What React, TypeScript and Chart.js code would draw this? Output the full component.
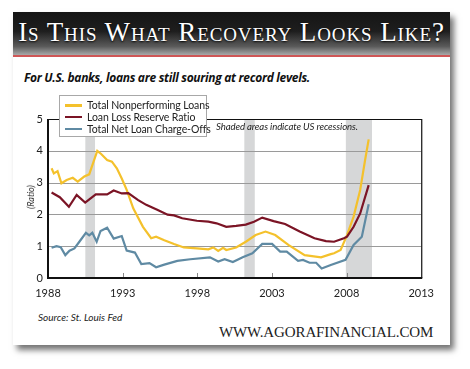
import React, { useEffect, useRef } from "react";
import { Chart, registerables } from "chart.js";

Chart.register(...registerables);

const nplYears = [1988.24, 1988.39, 1988.64, 1988.9, 1989.25, 1989.66, 1989.99, 1990.43, 1990.76, 1991.3, 1991.56, 1991.96, 1992.28, 1992.61, 1992.94, 1993.27, 1993.71, 1994.36, 1994.91, 1995.24, 1995.79, 1996.44, 1997.1, 1997.97, 1998.74, 1999.07, 1999.4, 1999.73, 1999.94, 2000.6, 2001.25, 2001.91, 2002.57, 2003.22, 2004.1, 2005.19, 2006.29, 2006.94, 2007.16, 2007.6, 2008.03, 2008.47, 2008.91, 2009.24, 2009.48];
const nplValues = [3.45, 3.29, 3.36, 2.98, 3.08, 3.15, 3.03, 3.19, 3.26, 4.0, 3.9, 3.71, 3.66, 3.45, 3.13, 2.77, 2.19, 1.61, 1.25, 1.3, 1.19, 1.07, 0.96, 0.93, 0.9, 0.96, 0.85, 0.95, 0.88, 0.96, 1.14, 1.35, 1.46, 1.35, 1.04, 0.72, 0.65, 0.75, 0.78, 0.88, 1.35, 1.93, 2.77, 3.71, 4.36];

const reserveYears = [1988.24, 1988.79, 1989.4, 1989.92, 1990.49, 1991.2, 1991.96, 1992.4, 1992.94, 1993.38, 1994.04, 1994.58, 1995.35, 1996.01, 1996.44, 1996.99, 1997.97, 1998.74, 1999.29, 1999.94, 2000.6, 2001.25, 2001.8, 2002.35, 2003.11, 2003.88, 2004.86, 2005.85, 2006.62, 2007.16, 2007.82, 2008.03, 2008.47, 2008.91, 2009.48];
const reserveValues = [2.69, 2.54, 2.24, 2.61, 2.37, 2.63, 2.63, 2.75, 2.66, 2.67, 2.45, 2.3, 2.14, 1.99, 1.97, 1.88, 1.8, 1.77, 1.72, 1.61, 1.64, 1.68, 1.77, 1.9, 1.79, 1.7, 1.46, 1.25, 1.16, 1.14, 1.25, 1.3, 1.61, 2.03, 2.92];

const chargeOffYears = [1988.24, 1988.57, 1988.85, 1989.16, 1989.44, 1989.77, 1990.1, 1990.54, 1990.76, 1990.97, 1991.26, 1991.52, 1991.96, 1992.4, 1992.94, 1993.27, 1993.82, 1994.25, 1994.8, 1995.24, 1995.79, 1996.66, 1997.53, 1998.85, 1999.4, 1999.83, 2000.38, 2001.04, 2001.69, 2002.35, 2003.01, 2003.55, 2003.99, 2004.75, 2005.08, 2005.52, 2005.96, 2006.33, 2006.94, 2007.93, 2008.47, 2009.02, 2009.48];
const chargeOffValues = [0.95, 1.0, 0.97, 0.72, 0.86, 0.93, 1.14, 1.42, 1.34, 1.42, 1.14, 1.48, 1.58, 1.24, 1.32, 0.86, 0.8, 0.44, 0.47, 0.34, 0.42, 0.54, 0.59, 0.65, 0.52, 0.59, 0.5, 0.65, 0.78, 1.07, 1.07, 0.83, 0.83, 0.54, 0.57, 0.48, 0.48, 0.3, 0.41, 0.57, 1.04, 1.3, 2.32];

const recessionStarts = [1990.5, 2001.15, 2007.95];
const recessionEnds = [1991.15, 2001.85, 2009.7];

const xTicks = [1988, 1993, 1998, 2003, 2008, 2013];
const yTicks = [0, 1, 2, 3, 4, 5];

const seriesNames = ["Total Nonperforming Loans", "Loan Loss Reserve Ratio", "Total Net Loan Charge-Offs"];
const seriesColors = ["#f4c12c", "#7b1425", "#5f8aa3"];

const LABEL_FONT = "Lato, 'Noto Sans', sans-serif";

function pts(xs: number[], ys: number[]) {
  return xs.map((x, i) => ({ x, y: ys[i] }));
}

const recessionPlugin = {
  id: "recessions",
  beforeDatasetsDraw(chart: any) {
    const { ctx, chartArea, scales } = chart;
    ctx.save();
    ctx.fillStyle = "#d6d7d8";
    for (let i = 0; i < recessionStarts.length; i++) {
      const x1 = scales.x.getPixelForValue(recessionStarts[i]);
      const x2 = scales.x.getPixelForValue(recessionEnds[i]);
      ctx.fillRect(x1, chartArea.top, x2 - x1, chartArea.bottom - chartArea.top);
    }
    ctx.strokeStyle = "#9a9a9a";
    ctx.lineWidth = 1;
    for (const v of yTicks) {
      if (v === 0 || v === 5) continue;
      const y = Math.round(scales.y.getPixelForValue(v)) + 0.5;
      ctx.beginPath();
      ctx.moveTo(chartArea.left, y);
      ctx.lineTo(chartArea.right, y);
      ctx.stroke();
    }
    ctx.restore();
  },
  afterDatasetsDraw(chart: any) {
    const { ctx, chartArea, scales } = chart;
    ctx.save();
    ctx.strokeStyle = "#111";
    ctx.lineWidth = 1.2;
    ctx.beginPath();
    ctx.moveTo(chartArea.left, chartArea.top + 0.5);
    ctx.lineTo(chartArea.right + 0.5, chartArea.top + 0.5);
    ctx.lineTo(chartArea.right + 0.5, chartArea.bottom);
    ctx.stroke();
    ctx.lineWidth = 2;
    ctx.beginPath();
    ctx.moveTo(chartArea.left, chartArea.top);
    ctx.lineTo(chartArea.left, chartArea.bottom);
    ctx.lineTo(chartArea.right + 1, chartArea.bottom);
    ctx.stroke();
    ctx.strokeStyle = "#888";
    ctx.lineWidth = 1;
    for (const t of xTicks) {
      if (t === 1988 || t === 2013) continue;
      const x = Math.round(scales.x.getPixelForValue(t)) + 0.5;
      ctx.beginPath();
      ctx.moveTo(x, chartArea.bottom - 1);
      ctx.lineTo(x, chartArea.bottom - 5);
      ctx.stroke();
    }
    ctx.restore();
  },
};

function LineChart() {
  const ref = useRef<HTMLCanvasElement>(null);
  useEffect(() => {
    if (!ref.current) return;
    const chart = new Chart(ref.current, {
      type: "line",
      data: {
        datasets: [
          { label: seriesNames[2], data: pts(chargeOffYears, chargeOffValues), borderColor: seriesColors[2] },
          { label: seriesNames[1], data: pts(reserveYears, reserveValues), borderColor: seriesColors[1] },
          { label: seriesNames[0], data: pts(nplYears, nplValues), borderColor: seriesColors[0] },
        ].map((d) => ({ ...d, borderWidth: 2.2, pointRadius: 0, tension: 0, fill: false })),
      },
      options: {
        animation: false,
        responsive: false,
        maintainAspectRatio: false,
        layout: { padding: { top: 29, right: 14, left: 0, bottom: 0 } },
        plugins: { legend: { display: false }, tooltip: { enabled: false } },
        scales: {
          x: {
            type: "linear",
            min: 1988,
            max: 2013,
            afterBuildTicks: (axis: any) => {
              axis.ticks = xTicks.map((v) => ({ value: v }));
            },
            afterFit: (axis: any) => {
              axis.height = 32;
            },
            grid: { display: false, drawTicks: false },
            border: { display: false },
            ticks: {
              color: "#222",
              font: { family: LABEL_FONT, size: 11 },
              padding: 9,
              maxRotation: 0,
              autoSkip: false,
              callback: (v: any) => String(v),
            },
          },
          y: {
            min: 0,
            max: 5,
            afterBuildTicks: (axis: any) => {
              axis.ticks = yTicks.map((v) => ({ value: v }));
            },
            afterFit: (axis: any) => {
              axis.width = 35;
            },
            grid: { display: false, drawTicks: false },
            border: { display: false },
            ticks: {
              color: "#222",
              font: { family: LABEL_FONT, size: 11 },
              padding: 5,
              callback: (v: any) => String(v),
            },
          },
        },
      },
      plugins: [recessionPlugin],
    } as any);
    return () => chart.destroy();
  }, []);
  return <canvas ref={ref} width={430} height={220} style={{ position: "absolute", left: 13, top: 90, width: 430, height: 220 }} />;
}

export default function App() {
  const legendOrder = [0, 1, 2];
  return (
    <div style={{ position: "absolute", left: 0, top: 0, width: 470, height: 369, background: "#fff", overflow: "hidden" }}>
      <div
        style={{
          position: "absolute",
          left: 13,
          top: 12,
          width: 437,
          height: 333,
          background: "#fff",
          boxShadow: "4px 5px 6px rgba(0,0,0,0.55)",
        }}
      />
      <div
        style={{
          position: "absolute",
          left: 13,
          top: 12,
          width: 437,
          height: 43,
          background: "linear-gradient(#151515 0%, #1e1e1e 45%, #5a5a5a 80%, #a8a8a8 100%)",
          borderBottom: "2px solid #cf5656",
        }}
      />
      <div
        style={{
          position: "absolute",
          left: 13,
          top: 15,
          width: 437,
          textAlign: "center",
          color: "#fff",
          fontFamily: "'Liberation Serif', 'DejaVu Serif', serif",
          fontVariant: "small-caps",
          fontSize: 27,
          letterSpacing: 0.9,
          lineHeight: "34px",
          whiteSpace: "nowrap",
          textShadow: "0 1px 2px #000",
        }}
      >
        Is This What Recovery Looks Like?
      </div>
      <div
        style={{
          position: "absolute",
          left: 24,
          top: 69,
          fontFamily: "'Open Sans', sans-serif",
          fontWeight: 700,
          fontStyle: "italic",
          fontSize: 12,
          letterSpacing: -0.3,
          color: "#111",
          whiteSpace: "nowrap",
          lineHeight: "18px",
        }}
      >
        For U.S. banks, loans are still souring at record levels.
      </div>
      <LineChart />
      <div
        style={{
          position: "absolute",
          left: 59,
          top: 95,
          width: 146,
          height: 40,
          border: "1px solid #a8a8a8",
          background: "#fff",
        }}
      >
        {legendOrder.map((i, k) => (
          <div key={i} style={{ position: "absolute", left: 5, top: 3 + k * 11.8, height: 12, whiteSpace: "nowrap" }}>
            <span style={{ position: "absolute", left: 0, top: 5, width: 17, height: 2.5, background: seriesColors[i] }} />
            <span
              style={{
                position: "absolute",
                left: 22,
                top: 0,
                fontFamily: LABEL_FONT,
                fontSize: 10.5,
                lineHeight: "12px",
                color: "#222",
                letterSpacing: -0.1,
              }}
            >
              {seriesNames[i]}
            </span>
          </div>
        ))}
      </div>
      <div
        style={{
          position: "absolute",
          left: 216,
          top: 121,
          fontFamily: LABEL_FONT,
          fontStyle: "italic",
          fontSize: 9.6,
          letterSpacing: -0.1,
          lineHeight: "12px",
          color: "#222",
          whiteSpace: "nowrap",
        }}
      >
        Shaded areas indicate US recessions.
      </div>
      <div
        style={{
          position: "absolute",
          left: 31,
          top: 197,
          transform: "translate(-50%, -50%) rotate(-90deg)",
          fontFamily: LABEL_FONT,
          fontStyle: "italic",
          fontSize: 9,
          lineHeight: "10px",
          color: "#333",
          whiteSpace: "nowrap",
        }}
      >
        (Ratio)
      </div>
      <div
        style={{
          position: "absolute",
          left: 38,
          top: 311,
          fontFamily: LABEL_FONT,
          fontStyle: "italic",
          fontSize: 10,
          lineHeight: "12px",
          color: "#222",
          whiteSpace: "nowrap",
        }}
      >
        Source: St. Louis Fed
      </div>
      <div
        style={{
          position: "absolute",
          left: 219,
          top: 323,
          fontFamily: "'Liberation Serif', serif",
          fontSize: 15,
          letterSpacing: -0.12,
          lineHeight: "18px",
          color: "#222",
          whiteSpace: "nowrap",
        }}
      >
        WWW.AGORAFINANCIAL.COM
      </div>
    </div>
  );
}
